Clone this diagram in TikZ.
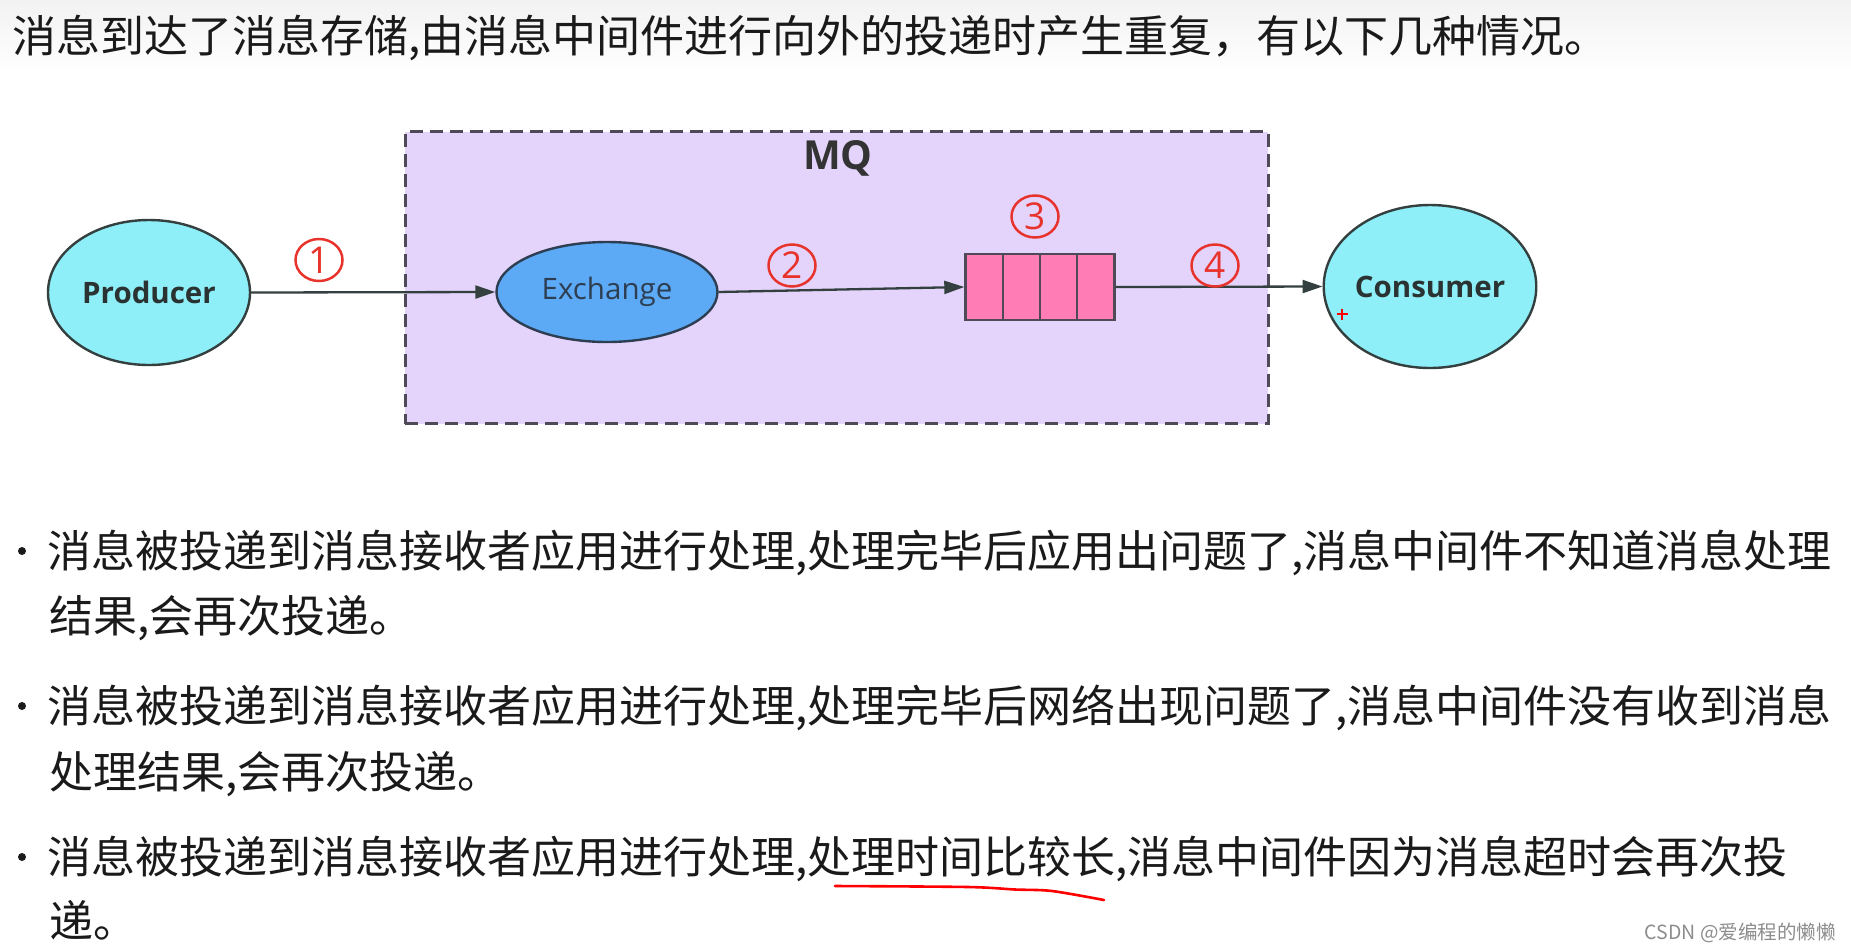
\documentclass[tikz,border=0pt]{standalone}
\usepackage{fontspec}
\setmainfont{Noto Sans CJK SC}
\newfontfamily\dfont{Open Sans}
\usetikzlibrary{arrows.meta,shapes.geometric}
\definecolor{mqfill}{HTML}{E4D3FB}
\definecolor{mqedge}{HTML}{4E4A58}
\definecolor{cyanfill}{HTML}{8EEFF8}
\definecolor{exfill}{HTML}{5CA9F5}
\definecolor{qfill}{HTML}{FF7DB4}
\definecolor{edgec}{HTML}{34403F}
\definecolor{extext}{HTML}{2E3E52}
\definecolor{numred}{HTML}{E8332C}
\definecolor{txt}{HTML}{1A1A1A}
\begin{document}
\begin{tikzpicture}[x=1pt,y=-1pt,
  bodytext/.style={anchor=base west,inner sep=0pt,text=txt,font=\fontsize{44}{44}\selectfont},
  bulletdot/.style={circle,fill=txt,inner sep=0pt,minimum size=8pt},
  endpoint/.style={ellipse,draw=edgec,line width=2.4pt,fill=cyanfill,inner sep=0pt,
    text=edgec!80!black,font=\dfont\bfseries\fontsize{29.5}{29.5}\selectfont},
  exnode/.style={ellipse,draw=extext,line width=2.4pt,fill=exfill,inner sep=0pt,
    minimum width=221pt,minimum height=100pt,text=extext,font=\dfont\fontsize{29.5}{29.5}\selectfont},
  flow/.style={draw=edgec,line width=2.3pt,-{Triangle[length=20pt,width=13pt]}},
  stepnum/.style={ellipse,draw=numred,line width=2.5pt,inner sep=0pt,minimum width=47pt,
    minimum height=42pt,text=numred,font=\dfont\fontsize{37}{37}\selectfont}
]
\useasboundingbox (0,0) rectangle (1851,951);
\fill[white] (0,0) rectangle (1851,951);
\shade[top color=black!5,bottom color=white] (0,0) rectangle (1851,75);

% header
\node[bodytext] (head) at (12,52) {消息到达了消息存储,由消息中间件进行向外的投递时产生重复，有以下几种情况。};

% MQ box
\node[draw=mqedge,fill=mqfill,line width=3pt,dash pattern=on 13pt off 7pt,
  minimum width=863pt,minimum height=292pt,inner sep=0pt] (mq) at (836.5,277.5) {};
\node[font=\dfont\bfseries\fontsize{40}{40}\selectfont,text=black!80] (mqlabel) at (838,158) {MQ};

% nodes
\node[endpoint,minimum width=202pt,minimum height=145pt] (producer) at (149,292.5) {Producer};
\node[exnode] (exchange) at (607,292) {Exchange};
\node[draw=mqedge,line width=2.4pt,fill=qfill,minimum width=149pt,minimum height=66pt,inner sep=0pt] (queue) at (1040,287) {};
\draw[mqedge,line width=2.4pt] ([xshift=-37.25pt]queue.north) -- ([xshift=-37.25pt]queue.south)
  (queue.north) -- (queue.south)
  ([xshift=37.25pt]queue.north) -- ([xshift=37.25pt]queue.south);
\node[endpoint,minimum width=210pt,minimum height=163pt] (consumer) at (1430,286.5) {Consumer};

% connectors
\draw[flow] (producer.east) -- (exchange.west);
\draw[flow] (exchange.east) -- (queue.west);
\draw[flow] (queue.east) -- (consumer.west);

% step numbers
\node[stepnum] (n1) at (319,260) {1};
\node[stepnum] (n2) at (792,265.5) {2};
\node[stepnum] (n3) at (1035,216.5) {3};
\node[stepnum] (n4) at (1215,265.5) {4};

% red mark
\draw[red,line width=1.6pt] (1336.5,314) -- (1347.5,314) (1342,308.5) -- (1342,319.5);

% bullets
\node[bulletdot] (b1) at (22,551) {};
\node[bodytext] (t1a) at (47,567) {消息被投递到消息接收者应用进行处理,处理完毕后应用出问题了,消息中间件不知道消息处理};
\node[bodytext] (t1b) at (49,632) {结果,会再次投递。};
\node[bulletdot] (b2) at (22,706) {};
\node[bodytext] (t2a) at (47,722) {消息被投递到消息接收者应用进行处理,处理完毕后网络出现问题了,消息中间件没有收到消息};
\node[bodytext] (t2b) at (49,788) {处理结果,会再次投递。};
\node[bulletdot] (b3) at (22,857) {};
\node[bodytext] (t3a) at (47,873) {消息被投递到消息接收者应用进行处理,处理时间比较长,消息中间件因为消息超时会再次投};
\node[bodytext] (t3b) at (49,937) {递。};

% red underline
\draw[red,line width=2.6pt,line cap=round] plot[smooth] coordinates {(835,886) (968,887) (1015,889.5) (1052,891) (1104,900)};

% watermark
\node[anchor=base east,inner sep=0pt,text=black!45,font=\fontsize{19.5}{19.5}\selectfont] (wm) at (1836,939) {CSDN @爱编程的懒懒};
\end{tikzpicture}
\end{document}
